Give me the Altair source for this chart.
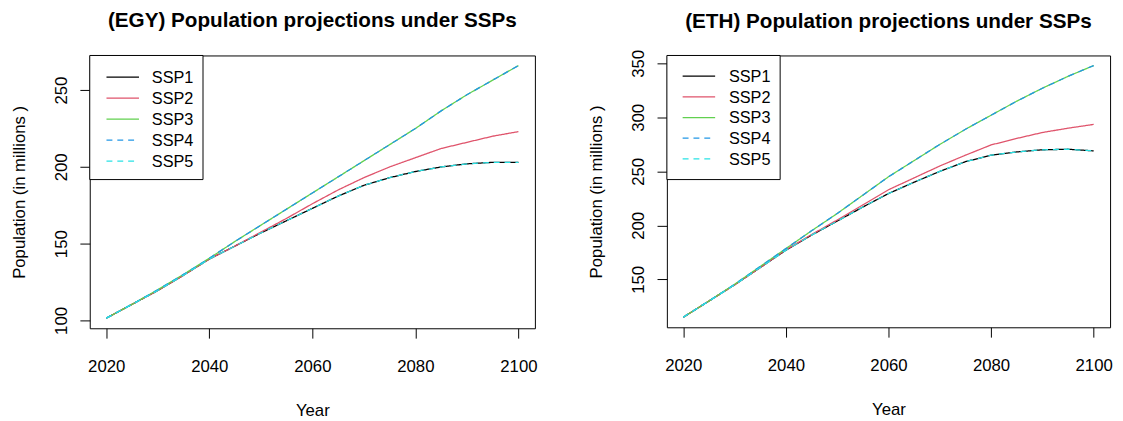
import altair as alt
import pandas as pd

years = list(range(2020, 2101, 5))
series = ["SSP1", "SSP2", "SSP3", "SSP4", "SSP5"]
colors = ["#000000", "#DF536B", "#61D04F", "#2297E6", "#28E2E5"]
dashes = [[1, 0], [1, 0], [1, 0], [6, 5], [6, 5]]

egy_ssp1 = [101.5, 110.5, 119.5, 129.5, 140, 148.5, 157, 165, 173, 181, 188, 193, 197, 200, 202, 203, 203]
egy_ssp2 = [101.5, 110.5, 119.5, 129.5, 140, 148.5, 157.5, 166.5, 176, 185, 193, 200, 206, 212, 216, 220, 223]
egy_ssp3 = [101.5, 110.5, 120, 130, 140.5, 151.5, 162, 172.5, 183, 193.5, 204, 214.5, 225, 236.5, 247, 256.5, 266]
egy_ssp4 = [101.5, 110.5, 120, 130, 140.5, 151.5, 162, 172.5, 183, 193.5, 204, 214.5, 225, 236.5, 247, 256.5, 266]
egy_ssp5 = [101.5, 110.5, 119.5, 129.5, 140, 148.5, 157, 165, 173, 181, 188, 193, 197, 200, 202, 203, 203]

eth_ssp1 = [115, 130, 145, 161, 177, 191, 204, 217, 229.5, 240, 250, 259, 265, 268, 270, 270.5, 269]
eth_ssp2 = [115, 130, 145, 161, 177.5, 191.5, 205, 219, 233, 244, 255, 265, 274.5, 280.5, 286, 290, 293.5]
eth_ssp3 = [115, 130, 145.5, 162, 178.5, 195, 211, 228, 245, 260, 275, 289, 302, 315, 327, 338, 348]
eth_ssp4 = [115, 130, 145.5, 162, 178.5, 195, 211, 228, 245, 260, 275, 289, 302, 315, 327, 338, 348]
eth_ssp5 = [115, 130, 145, 161, 177, 191, 204, 217, 229.5, 240, 250, 259, 265, 268, 270, 270.5, 269]

egy_ticks = [100, 150, 200, 250]
eth_ticks = [150, 200, 250, 300, 350]
x_ticks = [2020, 2040, 2060, 2080, 2100]

FONT = "Liberation Sans"


def make_df(vals):
    rows = []
    for s, v in zip(series, vals):
        for yr, p in zip(years, v):
            rows.append({"Year": yr, "Population": p, "Scenario": s})
    return pd.DataFrame(rows)


def ext(lo, hi):
    d = (hi - lo) * 0.04
    return [lo - d, hi + d]


def panel(title, vals, yticks, w, h, legend_rows, line_x, text_x, title_offset):
    df = make_df(vals)
    allv = [p for v in vals for p in v]
    lines = alt.Chart(df).mark_line(strokeWidth=1.3, clip=True).encode(
        x=alt.X("Year:Q", scale=alt.Scale(domain=ext(min(years), max(years)), nice=False, zero=False),
                axis=alt.Axis(values=x_ticks, format="d", title="Year", labelPadding=21, titlePadding=29)),
        y=alt.Y("Population:Q", scale=alt.Scale(domain=ext(min(allv), max(allv)), nice=False, zero=False),
                axis=alt.Axis(values=yticks, format="d", title="Population (in millions )",
                              labelAngle=270, labelAlign="center", labelBaseline="bottom",
                              labelPadding=10, titlePadding=24)),
        color=alt.Color("Scenario:N", scale=alt.Scale(domain=series, range=colors), legend=None),
        strokeDash=alt.StrokeDash("Scenario:N", scale=alt.Scale(domain=series, range=dashes), legend=None),
    )
    layers = [lines]
    box = alt.Chart(pd.DataFrame({"a": [0]})).mark_rect(fill="white", stroke="black", strokeWidth=1).encode(
        x=alt.value(0), x2=alt.value(115), y=alt.value(0), y2=alt.value(126))
    layers.append(box)
    for i, (s, c, d) in enumerate(zip(series, colors, dashes)):
        yy = legend_rows[0] + i * legend_rows[1]
        one = pd.DataFrame({"Scenario": [s]})
        layers.append(alt.Chart(one).mark_rule(color=c, strokeDash=d, strokeWidth=1.3).encode(
            x=alt.value(line_x), x2=alt.value(line_x + 33), y=alt.value(yy)))
        layers.append(alt.Chart(one).mark_text(align="left", baseline="middle", font=FONT,
                                               fontSize=16.5, color="black").encode(
            x=alt.value(text_x), y=alt.value(yy + 1), text="Scenario:N"))
    return alt.layer(*layers).properties(
        width=w, height=h,
        title=alt.TitleParams(title, fontSize=21, fontWeight="bold", font=FONT, anchor="middle",
                              baseline="alphabetic", offset=title_offset, color="black"),
    )


left = panel("(EGY) Population projections under SSPs",
             [egy_ssp1, egy_ssp2, egy_ssp3, egy_ssp4, egy_ssp5], egy_ticks, 452, 277, (22, 21.3), 17, 63, 7)
right = panel("(ETH) Population projections under SSPs",
              [eth_ssp1, eth_ssp2, eth_ssp3, eth_ssp4, eth_ssp5], eth_ticks, 450, 276, (21, 21), 16, 63, 1)

chart = alt.hconcat(left, right, spacing=50).properties(
    padding={"left": 2, "top": -1, "right": 2, "bottom": 2}
).configure_view(stroke="black", strokeWidth=1).configure_axis(
    grid=False, domain=False, ticks=True, tickColor="black", tickSize=10, tickWidth=1,
    labelFont=FONT, labelFontSize=17, labelColor="black",
    titleFont=FONT, titleFontSize=17, titleFontWeight="normal", titleColor="black",
)

chart.save("out.html", embed_options={"renderer": "svg", "actions": False})
